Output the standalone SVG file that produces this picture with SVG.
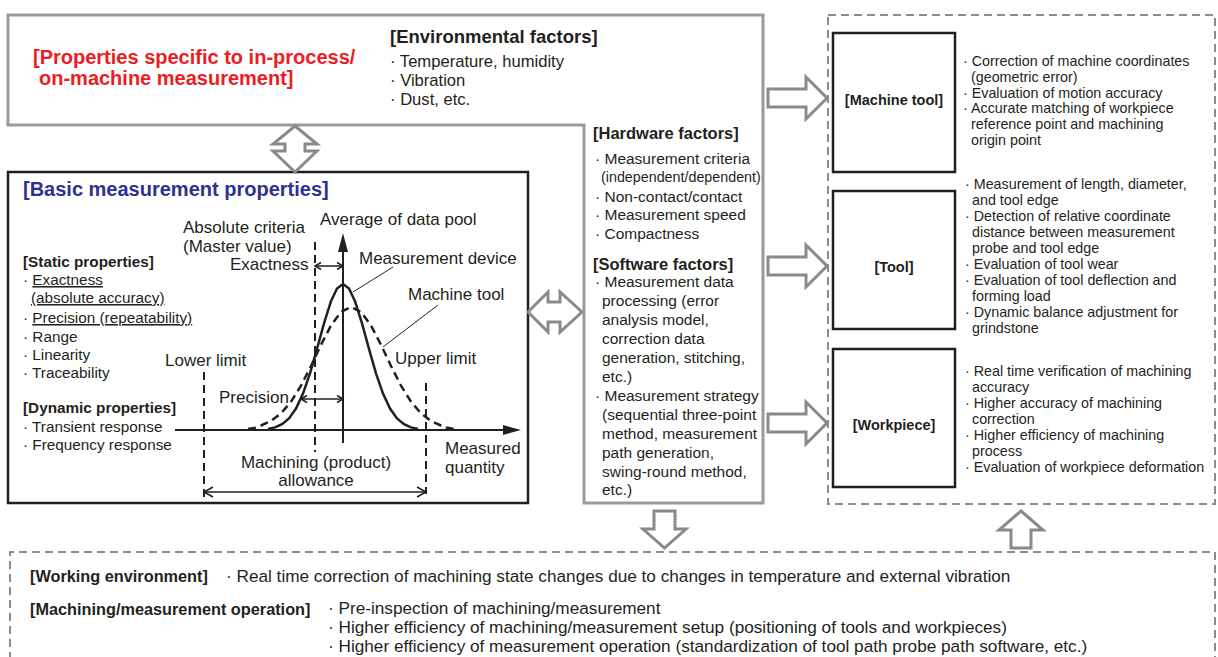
<svg xmlns="http://www.w3.org/2000/svg" width="1218" height="657" viewBox="0 0 1218 657">
<style>
text{font-family:"Liberation Sans",Arial,Helvetica,sans-serif;fill:#231f20}
.b{font-weight:bold}
.red{fill:#ed1c24;font-weight:bold;font-size:20px}
.blue{fill:#2e3192;font-weight:bold;font-size:20px}
.env{font-size:16.6px}
.mid{font-size:15.5px}
.left{font-size:15.3px}
.g{font-size:17px}
.rt{font-size:14.3px}
.bot{font-size:17.2px}
.gray{fill:#fff;stroke:#9a9a9a;stroke-width:3}
.blk{fill:#fff;stroke:#231f20;stroke-width:2.5}
.dash{fill:none;stroke:#8c8c8c;stroke-width:2;stroke-dasharray:8 5}
.arr{fill:#fff;stroke:#8a8a8a;stroke-width:3;stroke-linejoin:miter}
.ln{fill:none;stroke:#231f20;stroke-width:1.5}
.ld{fill:none;stroke:#231f20;stroke-width:1}
.vd{fill:none;stroke:#231f20;stroke-width:2;stroke-dasharray:8 5}
.u{text-decoration:underline}
</style>

<g id="factors">
<polygon class="gray" points="8,15 763,15 763,503 584,503 584,125 8,125"/>
<text class="red" x="33" y="64">[Properties specific to in-process/</text>
<text class="red" x="39" y="85">on-machine measurement]</text>
<text class="b" x="390" y="43" font-size="18.5">[Environmental factors]</text>
<text class="env" x="390" y="67">· Temperature, humidity</text>
<text class="env" x="390" y="85.5">· Vibration</text>
<text class="env" x="390" y="104.5">· Dust, etc.</text>
<text class="b" x="593" y="139" font-size="16.5">[Hardware factors]</text>
<text class="mid" x="595" y="164">· Measurement criteria</text>
<text x="601" y="182" font-size="14.3">(independent/dependent)</text>
<text class="mid" x="595" y="202">· Non-contact/contact</text>
<text class="mid" x="595" y="220">· Measurement speed</text>
<text class="mid" x="595" y="239">· Compactness</text>
<text class="b" x="593" y="270" font-size="16.5">[Software factors]</text>
<text class="mid" x="595" y="287">· Measurement data</text>
<text class="mid" x="602" y="306">processing (error</text>
<text class="mid" x="602" y="325">analysis model,</text>
<text class="mid" x="602" y="344">correction data</text>
<text class="mid" x="602" y="363">generation, stitching,</text>
<text class="mid" x="602" y="382">etc.)</text>
<text class="mid" x="595" y="401">· Measurement strategy</text>
<text class="mid" x="602" y="420">(sequential three-point</text>
<text class="mid" x="602" y="439">method, measurement</text>
<text class="mid" x="602" y="458">path generation,</text>
<text class="mid" x="602" y="477">swing-round method,</text>
<text class="mid" x="602" y="495">etc.)</text>
</g>

<g id="basic">
<rect class="blk" x="8" y="172" width="520" height="331"/>
<text class="blue" x="23" y="196">[Basic measurement properties]</text>
<text class="left b" x="23" y="267">[Static properties]</text>
<text class="left" x="23" y="285">· <tspan class="u">Exactness</tspan></text>
<text class="left u" x="31" y="303">(absolute accuracy)</text>
<text class="left" x="23" y="323">· <tspan class="u">Precision (repeatability)</tspan></text>
<text class="left" x="23" y="341.5">· Range</text>
<text class="left" x="23" y="360">· Linearity</text>
<text class="left" x="23" y="378">· Traceability</text>
<text class="left b" x="23" y="413">[Dynamic properties]</text>
<text class="left" x="23" y="432">· Transient response</text>
<text class="left" x="23" y="450">· Frequency response</text>
</g>

<g id="graph">
<line x1="175" y1="430" x2="506" y2="430" stroke="#231f20" stroke-width="2"/>
<polygon points="503,425 521,430 503,435" fill="#231f20"/>
<line x1="343" y1="443" x2="343" y2="250" stroke="#231f20" stroke-width="2"/>
<polygon points="338,252 343,233 348,252" fill="#231f20"/>
<line class="vd" x1="315" y1="242" x2="315" y2="452"/>
<line class="vd" x1="204" y1="372" x2="204" y2="497"/>
<line class="vd" x1="426" y1="383" x2="426" y2="494"/>
<path fill="none" stroke="#231f20" stroke-width="2.5" d="M268,428.9 L275,427.4 L282,424.2 L289,418.4 L296,408.6 L303,393.6 L310,373.3 L317,348.8 L324,323.3 L331,301.2 L337,288.5 L343,284 L349,288.5 L355,301.2 L362,323.3 L369,348.8 L376,373.3 L383,393.6 L390,408.6 L397,418.4 L404,424.2 L411,427.4 L418,428.9"/>
<path fill="none" stroke="#231f20" stroke-width="2.5" stroke-dasharray="8 5" d="M248,429 L256,427.6 L261,425.5 L271,421 L281,413.4 L291,401.7 L301,385.7 L311,366 L321,344.8 L331,325.5 L341,311.9 L351,307 L361,311.9 L371,325.5 L381,344.8 L391,366 L401,385.7 L411,401.7 L421,413.4 L431,421 L441,425.5 L446,427.6 L454,429"/>
<line class="ld" x1="353" y1="292" x2="393" y2="267"/>
<line class="ld" x1="383" y1="347" x2="438" y2="305"/>
<line class="ln" x1="315" y1="266" x2="343" y2="266"/>
<polyline class="ln" points="321,262.5 315,266 321,269.5"/>
<polyline class="ln" points="337,262.5 343,266 337,269.5"/>
<line class="ln" x1="301" y1="399" x2="343" y2="399"/>
<polyline class="ln" points="307,395.5 301,399 307,402.5"/>
<polyline class="ln" points="337,395.5 343,399 337,402.5"/>
<line class="ln" x1="204" y1="492" x2="426" y2="492"/>
<polyline class="ln" points="213,487 204,492 213,497"/>
<polyline class="ln" points="417,487 426,492 417,497"/>
<text class="g" x="320" y="225">Average of data pool</text>
<text class="g" x="183" y="233">Absolute criteria</text>
<text class="g" x="183" y="252">(Master value)</text>
<text class="g" x="230" y="270">Exactness</text>
<text class="g" x="359" y="264">Measurement device</text>
<text class="g" x="408" y="300">Machine tool</text>
<text class="g" x="165" y="366">Lower limit</text>
<text class="g" x="395" y="364">Upper limit</text>
<text class="g" x="219" y="403">Precision</text>
<text class="g" x="316" y="468" text-anchor="middle">Machining (product)</text>
<text class="g" x="316" y="486" text-anchor="middle">allowance</text>
<text class="g" x="445" y="454">Measured</text>
<text class="g" x="445" y="473">quantity</text>
</g>

<g id="targets">
<rect class="dash" x="828" y="15" width="387" height="489"/>
</g>

<g id="machine-tool">
<rect class="blk" x="833" y="33" width="122" height="139"/>
<text class="b" x="894" y="105" font-size="14.5" text-anchor="middle">[Machine tool]</text>
<text class="rt" x="963" y="65.5">· Correction of machine coordinates</text>
<text class="rt" x="971" y="81.5">(geometric error)</text>
<text class="rt" x="963" y="97.5">· Evaluation of motion accuracy</text>
<text class="rt" x="963" y="113">· Accurate matching of workpiece</text>
<text class="rt" x="971" y="129">reference point and machining</text>
<text class="rt" x="971" y="145">origin point</text>
</g>

<g id="tool">
<rect class="blk" x="833" y="191" width="122" height="138"/>
<text class="b" x="894" y="272" font-size="14.5" text-anchor="middle">[Tool]</text>
<text class="rt" x="965" y="189">· Measurement of length, diameter,</text>
<text class="rt" x="972" y="205">and tool edge</text>
<text class="rt" x="965" y="221">· Detection of relative coordinate</text>
<text class="rt" x="972" y="237">distance between measurement</text>
<text class="rt" x="972" y="253">probe and tool edge</text>
<text class="rt" x="965" y="269">· Evaluation of tool wear</text>
<text class="rt" x="965" y="285">· Evaluation of tool deflection and</text>
<text class="rt" x="972" y="301">forming load</text>
<text class="rt" x="965" y="317">· Dynamic balance adjustment for</text>
<text class="rt" x="972" y="333">grindstone</text>
</g>

<g id="workpiece">
<rect class="blk" x="833" y="349" width="122" height="138"/>
<text class="b" x="894" y="430" font-size="14.5" text-anchor="middle">[Workpiece]</text>
<text class="rt" x="965" y="376">· Real time verification of machining</text>
<text class="rt" x="972" y="392">accuracy</text>
<text class="rt" x="965" y="408">· Higher accuracy of machining</text>
<text class="rt" x="972" y="423.5">correction</text>
<text class="rt" x="965" y="439.5">· Higher efficiency of machining</text>
<text class="rt" x="972" y="455.5">process</text>
<text class="rt" x="965" y="471.5">· Evaluation of workpiece deformation</text>
</g>

<g id="operation">
<path class="dash" d="M10,660 L10,552 L1215,552 L1215,660"/>
<text class="b" x="30" y="581.5" font-size="16.3">[Working environment]</text>
<text class="bot" x="226" y="581.5">· Real time correction of machining state changes due to changes in temperature and external vibration</text>
<text class="b" x="30" y="614.5" font-size="16.3">[Machining/measurement operation]</text>
<text class="bot" x="328" y="613.5">· Pre-inspection of machining/measurement</text>
<text class="bot" x="328" y="632.5">· Higher efficiency of machining/measurement setup (positioning of tools and workpieces)</text>
<text class="bot" x="328" y="651.5">· Higher efficiency of measurement operation (standardization of tool path probe path software, etc.)</text>
</g>

<g id="connectors">
<polygon class="arr" points="295,126 317,144 305,144 305,151 317,151 295,172 273,151 285,151 285,144 273,144"/>
<polygon class="arr" points="528,312 548,292 548,302 560,302 560,292 582,312 560,332 560,322 548,322 548,332"/>
<polygon class="arr" points="768,89 806,89 806,77 827,98 806,119 806,107 768,107"/>
<polygon class="arr" points="768,257 806,257 806,245 827,266 806,287 806,275 768,275"/>
<polygon class="arr" points="768,414 806,414 806,402 827,423 806,444 806,432 768,432"/>
<polygon class="arr" points="654,511 675,511 675,529 686,529 664.5,548 643,529 654,529"/>
<polygon class="arr" points="1021,511 1043,530 1031,530 1031,548 1011,548 1011,530 999,530"/>
</g>
</svg>
